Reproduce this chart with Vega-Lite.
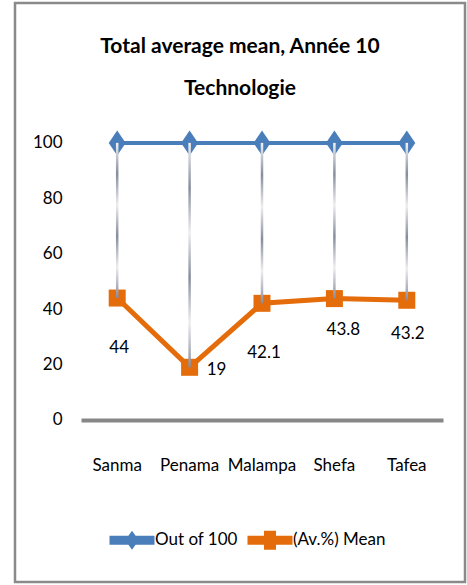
{
  "$schema": "https://vega.github.io/schema/vega-lite/v6.json",
  "width": 450,
  "height": 579,
  "autosize": {"type": "none"},
  "padding": {"left": 15, "top": 3, "right": 2, "bottom": 3},
  "background": "white",
  "config": {
    "font": "Lato, Liberation Sans",
    "view": {"stroke": "#8a8a8a", "strokeWidth": 2.5},
    "axisY": {"domain": false, "ticks": false, "grid": false, "offset": -51, "labelPadding": 4, "labelFontSize": 17, "labelColor": "#000000"},
    "axisX": {"domainColor": "#878787", "domainWidth": 4, "ticks": false, "grid": false, "offset": -162, "labelPadding": 37, "labelFontSize": 17, "labelColor": "#000000", "labelAngle": 0, "title": null}
  },
  "title": {
    "text": ["Total average mean, Année 10", "Technologie"],
    "fontSize": 21,
    "fontWeight": "bold",
    "color": "#000000",
    "lineHeight": 42,
    "anchor": "middle",
    "frame": "group",
    "offset": -96
  },
  "data": {
    "values": [
      {"region": "Sanma", "out_of": 100, "mean": 44},
      {"region": "Penama", "out_of": 100, "mean": 19},
      {"region": "Malampa", "out_of": 100, "mean": 42.1},
      {"region": "Shefa", "out_of": 100, "mean": 43.8},
      {"region": "Tafea", "out_of": 100, "mean": 43.2}
    ]
  },
  "encoding": {
    "x": {
      "field": "region",
      "type": "nominal",
      "sort": null,
      "scale": {"type": "band", "range": [66, 428], "paddingInner": 0, "paddingOuter": 0},
      "axis": {"title": null}
    }
  },
  "layer": [
    {
      "mark": {"type": "line", "color": "#4a7ebb", "strokeWidth": 4},
      "encoding": {
        "y": {"field": "out_of", "type": "quantitative", "scale": {"domain": [-58.5, 150.5], "nice": false, "zero": false}, "axis": {"title": null, "values": [0, 20, 40, 60, 80, 100]}}
      }
    },
    {
      "mark": {"type": "line", "color": "#e46c0a", "strokeWidth": 5},
      "encoding": {
        "y": {"field": "mean", "type": "quantitative", "scale": {"domain": [-58.5, 150.5], "nice": false, "zero": false}, "axis": {"title": null, "values": [0, 20, 40, 60, 80, 100]}}
      }
    },
    {
      "mark": {"type": "point", "filled": true, "opacity": 1, "color": "#4a7ebb", "size": 289, "shape": "M0,-1.47L1,0L0,1.47L-1,0Z"},
      "encoding": {
        "y": {"field": "out_of", "type": "quantitative", "scale": {"domain": [-58.5, 150.5], "nice": false, "zero": false}, "axis": {"title": null, "values": [0, 20, 40, 60, 80, 100]}}
      }
    },
    {
      "mark": {"type": "point", "filled": true, "opacity": 1, "color": "#e46c0a", "size": 289, "shape": "square"},
      "encoding": {
        "y": {"field": "mean", "type": "quantitative", "scale": {"domain": [-58.5, 150.5], "nice": false, "zero": false}, "axis": {"title": null, "values": [0, 20, 40, 60, 80, 100]}}
      }
    },
    {
      "mark": {
        "type": "bar",
        "size": 2.5,
        "fill": {"gradient": "linear", "x1": 0, "y1": 0, "x2": 0, "y2": 1, "stops": [
          {"offset": 0, "color": "#f2f2f4"},
          {"offset": 0.2, "color": "#868c9c"},
          {"offset": 0.4, "color": "#eeeef0"},
          {"offset": 0.6, "color": "#868c9c"},
          {"offset": 0.8, "color": "#eeeef0"},
          {"offset": 1, "color": "#868c9c"}
        ]}
      },
      "encoding": {
        "y": {"field": "out_of", "type": "quantitative", "scale": {"domain": [-58.5, 150.5], "nice": false, "zero": false}, "axis": {"title": null, "values": [0, 20, 40, 60, 80, 100]}},
        "y2": {"field": "mean"}
      }
    },
    {
      "transform": [{"filter": "datum.region == 'Sanma' || datum.region == 'Malampa'"}],
      "mark": {"type": "text", "fontSize": 17, "color": "#000000", "baseline": "middle", "dy": 50, "dx": 2},
      "encoding": {
        "y": {"field": "mean", "type": "quantitative", "scale": {"domain": [-58.5, 150.5], "nice": false, "zero": false}, "axis": {"title": null, "values": [0, 20, 40, 60, 80, 100]}},
        "text": {"field": "mean", "type": "quantitative"}
      }
    },
    {
      "transform": [{"filter": "datum.region == 'Shefa'"}],
      "mark": {"type": "text", "fontSize": 17, "color": "#000000", "baseline": "middle", "dy": 31, "dx": 9},
      "encoding": {
        "y": {"field": "mean", "type": "quantitative", "scale": {"domain": [-58.5, 150.5], "nice": false, "zero": false}, "axis": {"title": null, "values": [0, 20, 40, 60, 80, 100]}},
        "text": {"field": "mean", "type": "quantitative"}
      }
    },
    {
      "transform": [{"filter": "datum.region == 'Tafea'"}],
      "mark": {"type": "text", "fontSize": 17, "color": "#000000", "baseline": "middle", "dy": 34, "dx": 1},
      "encoding": {
        "y": {"field": "mean", "type": "quantitative", "scale": {"domain": [-58.5, 150.5], "nice": false, "zero": false}, "axis": {"title": null, "values": [0, 20, 40, 60, 80, 100]}},
        "text": {"field": "mean", "type": "quantitative"}
      }
    },
    {
      "transform": [{"filter": "datum.region == 'Penama'"}],
      "mark": {"type": "text", "fontSize": 17, "color": "#000000", "baseline": "middle", "dy": 3, "dx": 27},
      "encoding": {
        "y": {"field": "mean", "type": "quantitative", "scale": {"domain": [-58.5, 150.5], "nice": false, "zero": false}, "axis": {"title": null, "values": [0, 20, 40, 60, 80, 100]}},
        "text": {"field": "mean", "type": "quantitative"}
      }
    },
    {
      "transform": [{"fold": ["out_of", "mean"], "as": ["series", "value"]}],
      "mark": {"type": "point", "filled": true, "opacity": 0},
      "encoding": {
        "y": {"field": "value", "type": "quantitative", "scale": {"domain": [-58.5, 150.5], "nice": false, "zero": false}, "axis": {"title": null, "values": [0, 20, 40, 60, 80, 100]}},
        "color": {
          "field": "series", "type": "nominal",
          "scale": {"domain": ["out_of", "mean"], "range": ["#4a7ebb", "#e46c0a"]},
          "legend": {"orient": "none", "legendX": 108, "legendY": 528, "direction": "horizontal", "title": null, "symbolOpacity": 1, "symbolSize": 324, "symbolStrokeWidth": 0, "labelFontSize": 17, "labelColor": "#000000", "labelOffset": 14, "columnPadding": 9, "labelExpr": "datum.value == 'out_of' ? 'Out of 100' : '(Av.%) Mean'"}
        },
        "shape": {
          "field": "series", "type": "nominal",
          "scale": {"domain": ["out_of", "mean"], "range": [
            "M-2.5,-0.5L-0.4,-0.5L0,-1.05L0.4,-0.5L2.5,-0.5L2.5,0.5L0.4,0.5L0,1.05L-0.4,0.5L-2.5,0.5Z",
            "M-2.5,-0.5L-0.67,-0.5L-0.67,-1.05L0.67,-1.05L0.67,-0.5L2.5,-0.5L2.5,0.5L0.67,0.5L0.67,1.05L-0.67,1.05L-0.67,0.5L-2.5,0.5Z"
          ]},
          "legend": {"orient": "none", "legendX": 108, "legendY": 528, "direction": "horizontal", "title": null, "symbolOpacity": 1, "symbolSize": 324, "symbolStrokeWidth": 0, "labelFontSize": 17, "labelColor": "#000000", "labelOffset": 14, "columnPadding": 9, "labelExpr": "datum.value == 'out_of' ? 'Out of 100' : '(Av.%) Mean'"}
        }
      }
    }
  ]
}
